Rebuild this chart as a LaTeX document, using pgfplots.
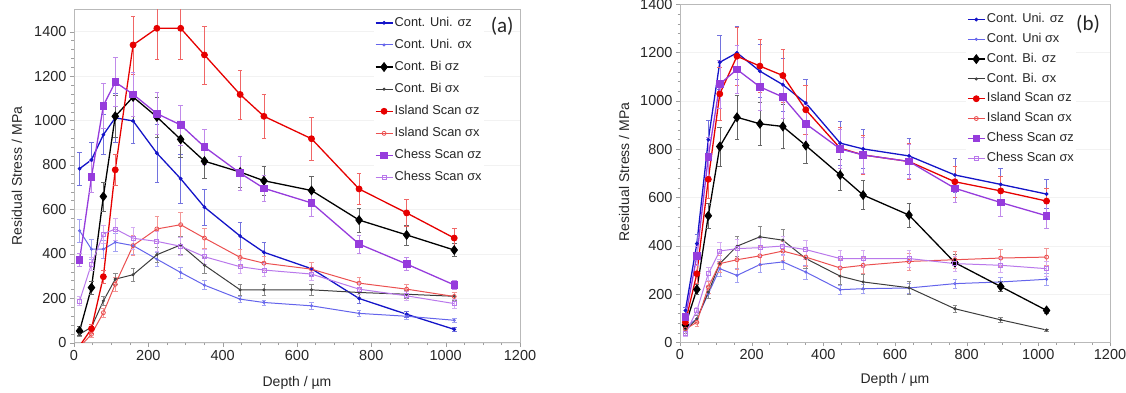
\documentclass[border=0pt]{standalone}
\usepackage{fontspec}
\setmainfont{Liberation Sans}
\newfontfamily\calib{Carlito}
\usepackage{pgfplots}
\usepackage{pgfplotstable}
\pgfplotsset{compat=1.18}

\definecolor{cuz}{RGB}{20,20,200}
\definecolor{cux}{RGB}{100,100,235}
\definecolor{cbz}{RGB}{0,0,0}
\definecolor{cbx}{RGB}{60,60,60}
\definecolor{ciz}{RGB}{230,0,0}
\definecolor{cix}{RGB}{235,80,80}
\definecolor{ccz}{RGB}{150,60,220}
\definecolor{ccx}{RGB}{185,120,235}

\pgfplotstableread{
x uz euz ux eux bz ebz bx ebx iz eiz ix eix cz ecz cx ecx
15 783 75 504 50 53 20 38 10 -15 10 -20 10 372 30 188 20
47 823 80 421 45 248 30 70 15 63 20 38 15 745 70 354 30
79 936 90 421 40 658 65 188 20 297 30 135 20 1067 100 489 40
111 1012 110 452 40 1019 95 286 25 778 70 263 30 1173 110 512 50
159 998 100 437 40 1106 110 306 30 1340 130 437 45 1118 100 470 50
223 853 130 376 30 1016 90 396 35 1415 140 512 55 1031 95 456 45
287 738 110 316 25 915 80 440 40 1415 140 531 55 980 90 434 40
351 610 80 259 20 817 75 349 35 1295 130 471 45 881 80 387 35
447 480 60 196 15 768 70 238 25 1117 110 384 35 763 75 342 30
511 407 45 181 12 729 65 238 25 1019 100 358 30 695 60 327 30
639 333 30 166 15 685 65 238 25 918 95 331 30 629 60 309 30
767 199 20 132 15 552 55 226 20 692 70 268 25 444 40 241 25
895 128 15 119 12 485 45 218 20 584 60 241 20 354 30 211 20
1023 60 8 101 10 417 30 209 20 471 45 208 20 260 20 176 20
}\tabA

\pgfplotstableread{
x uz euz ux eux bz ebz bx ebx iz eiz ix eix cz ecz cx ecx
15 132 15 62 10 72 10 49 10 83 15 55 10 104 15 35 10
47 409 40 97 15 219 20 97 15 284 40 83 15 358 40 132 15
79 839 80 201 20 524 50 208 25 675 80 229 25 769 80 284 25
111 1160 110 305 30 811 80 326 35 1029 110 326 35 1070 100 378 35
159 1199 110 277 30 932 90 398 40 1185 120 342 40 1130 100 388 40
223 1123 110 322 30 905 90 437 45 1144 110 358 40 1058 95 392 40
287 1067 110 333 30 894 90 423 45 1105 110 378 40 1016 90 399 40
351 991 100 291 30 815 75 347 40 963 100 353 40 905 80 384 40
447 825 90 218 20 693 65 274 35 804 85 308 35 801 80 347 35
511 801 80 222 20 610 60 250 30 776 80 319 35 776 75 347 35
639 772 75 225 20 527 50 226 25 749 75 335 35 749 70 347 35
767 693 70 243 20 330 35 139 15 665 65 342 35 638 60 326 30
895 654 65 250 20 231 20 93 10 627 60 349 35 579 55 319 30
1023 614 60 261 25 132 10 51 5 585 55 353 35 524 50 305 30
}\tabB

% #1 color, #2 line width, #3 mark, #4 mark size, #5 fill, #6 ycol, #7 ecol, #8 table
\newcommand{\ser}[8]{%
\addplot[color=#1, line width=#2, mark=#3, mark size=#4, mark options={solid, fill=#5, line width=0.8pt},
  error bars/.cd, y dir=both, y explicit,
  error bar style={color=#1!60, line width=0.55pt},
  error mark options={rotate=90, mark size=2.3pt, color=#1!60, line width=0.55pt}]
  table[x=x, y=#6, y error=#7] {#8};}

\pgfplotsset{
 panel/.style={
  scale only axis, xmin=0, xmax=1200, ymin=0,
  xtick={0,200,...,1200}, ytick={0,200,...,1400},
  minor x tick num=3, minor y tick num=4,
  tick align=outside, tick pos=left,
  axis line style={gray!55, line width=0.7pt},
  major tick length=4pt, minor tick length=2.5pt,
  tick style={gray!75},
  ymajorgrids, grid style={gray!10},
  tick label style={font=\fontsize{14.5}{16}\selectfont, text=black!85},
  /pgf/number format/assume math mode=true,
  /pgf/number format/1000 sep={},
  label style={font=\fontsize{14}{16}\selectfont, text=black!85},
  xlabel={Depth / µm}, ylabel={Residual Stress / MPa},
  legend cell align=left,
  legend style={draw=none, fill=white, font=\fontsize{12.8}{14}\selectfont,
    inner sep=1pt, nodes={inner sep=1.5pt, text height=9pt, text depth=2.5pt, text=black!85}},
  legend image code/.code={\draw[mark repeat=2,mark phase=2,##1] plot coordinates {(0pt,0pt) (8.5pt,0pt) (17pt,0pt)};},
 }
}

\begin{document}
\begin{tikzpicture}
\useasboundingbox (0,0) rectangle (1126pt,392pt);

\begin{axis}[panel, at={(74pt,49.3pt)}, anchor=south west,
  width=446pt, height=333.3pt, ymax=1500,
  ylabel style={at={(axis description cs:-0.128,0.5)}, anchor=center},
  xlabel style={at={(axis description cs:0.5,-0.121)}, anchor=center},
  legend style={at={(0.672,0.985)}, anchor=north west, row sep=7.6pt}]
\ser{cuz}{1.3pt}{*}{1.5pt}{cuz}{uz}{euz}{\tabA}
\ser{cux}{1.0pt}{*}{1.1pt}{cux!60}{ux}{eux}{\tabA}
\ser{cbz}{1.3pt}{diamond*}{4.4pt}{cbz}{bz}{ebz}{\tabA}
\ser{cbx}{1.0pt}{*}{1.1pt}{cbx!60}{bx}{ebx}{\tabA}
\ser{ciz}{1.3pt}{*}{3.0pt}{ciz}{iz}{eiz}{\tabA}
\ser{cix}{1.0pt}{o}{2.0pt}{white}{ix}{eix}{\tabA}
\ser{ccz}{1.3pt}{square*}{3.3pt}{ccz}{cz}{ecz}{\tabA}
\ser{ccx}{1.0pt}{square}{2.0pt}{white}{cx}{ecx}{\tabA}
\legend{Cont. Uni. σz, Cont. Uni. σx, Cont. Bi σz, Cont. Bi σx, Island Scan σz, Island Scan σx, Chess Scan σz, Chess Scan σx}
\node[font=\calib\fontsize{21}{22}\selectfont, text=black!85] at (rel axis cs:0.96,0.948) {(a)};
\end{axis}

\begin{axis}[panel, at={(680pt,49.7pt)}, anchor=south west,
  width=430pt, height=338pt, ymax=1400,
  ylabel style={at={(axis description cs:-0.130,0.504)}, anchor=center},
  xlabel style={at={(axis description cs:0.5,-0.11)}, anchor=center},
  legend style={at={(0.665,0.98)}, anchor=north west, row sep=5.3pt}]
\ser{cuz}{1.3pt}{*}{1.5pt}{cuz}{uz}{euz}{\tabB}
\ser{cux}{1.0pt}{*}{1.1pt}{cux!60}{ux}{eux}{\tabB}
\ser{cbz}{1.3pt}{diamond*}{4.4pt}{cbz}{bz}{ebz}{\tabB}
\ser{cbx}{1.0pt}{*}{1.1pt}{cbx!60}{bx}{ebx}{\tabB}
\ser{ciz}{1.3pt}{*}{3.0pt}{ciz}{iz}{eiz}{\tabB}
\ser{cix}{1.0pt}{o}{2.0pt}{white}{ix}{eix}{\tabB}
\ser{ccz}{1.3pt}{square*}{3.3pt}{ccz}{cz}{ecz}{\tabB}
\ser{ccx}{1.0pt}{square}{2.0pt}{white}{cx}{ecx}{\tabB}
\legend{Cont. Uni. σz, Cont. Uni σx, Cont. Bi. σz, Cont. Bi. σx, Island Scan σz, Island Scan σx, Chess Scan σz, Chess Scan σx}
\node[font=\calib\fontsize{21}{22}\selectfont, text=black!85] at (rel axis cs:0.949,0.942) {(b)};
\end{axis}
\end{tikzpicture}
\end{document}
